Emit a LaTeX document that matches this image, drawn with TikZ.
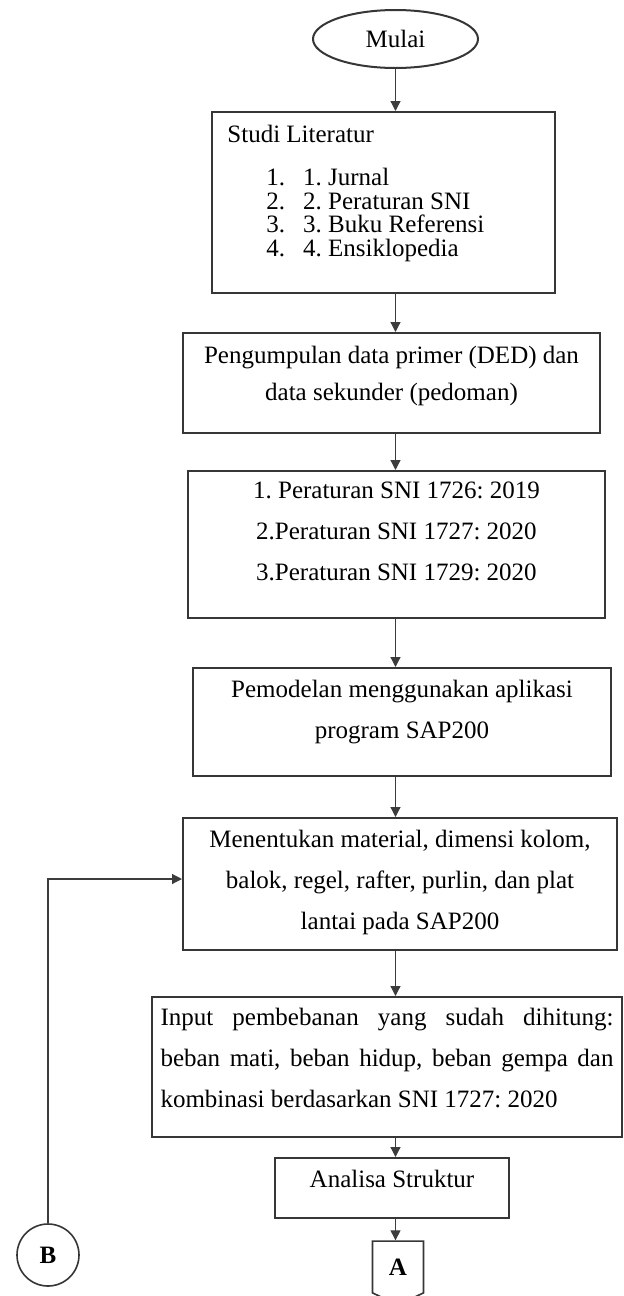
\documentclass[tikz,border=0pt]{standalone}
\usepackage{fontspec}
\setmainfont{Liberation Serif}
\usetikzlibrary{arrows.meta,positioning,shapes.geometric,shapes.symbols}
\definecolor{boxline}{HTML}{363636}
\definecolor{wireline}{HTML}{3C3C3C}
\hyphenpenalty=10000
\frenchspacing
\tikzset{
block/.style={draw=boxline,line width=1pt,align=center,inner sep=0pt,font=\fontsize{12.5pt}{20.5pt}\selectfont},
terminal/.style={ellipse,draw=boxline,line width=1pt,inner sep=0pt,font=\fontsize{12.5pt}{15pt}\selectfont},
joint/.style={circle,draw=boxline,line width=.8pt,inner sep=0pt,minimum size=31pt,font=\fontsize{12.5pt}{15pt}\selectfont\bfseries},
offpage/.style={signal,signal to=south,signal pointer angle=130,draw=boxline,line width=.8pt,inner sep=0pt,minimum width=25.5pt,minimum height=28pt,font=\fontsize{12.5pt}{15pt}\selectfont\bfseries},
listtext/.style={align=left,inner sep=0pt,font=\fontsize{12.5pt}{11.8pt}\selectfont},
flow/.style={-{Triangle[length=5pt,width=5pt]},line width=.6pt,draw=wireline}}

\begin{document}
\begin{tikzpicture}[x=0.5pt,y=-0.5pt]
\useasboundingbox (0,0) rectangle (624,1296);
\node[terminal,minimum width=82.5pt,minimum height=29pt] (mulai) at (395.5,39) {Mulai};
\node[block,minimum width=171.5pt,minimum height=90.5pt] (studi) at (383.5,202.5) {};
\node[listtext,anchor=north west] (studitext) at (227,125) {Studi Literatur\\[9.6pt]\hspace*{19.5pt}1.\hspace{9pt}1. Jurnal\\\hspace*{19.5pt}2.\hspace{9pt}2. Peraturan SNI\\\hspace*{19.5pt}3.\hspace{9pt}3. Buku Referensi\\\hspace*{19.5pt}4.\hspace{9pt}4. Ensiklopedia};
\node[block,minimum width=208.5pt,minimum height=50pt,font=\fontsize{12.5pt}{18.5pt}\selectfont,text depth=9.5pt] (gather) at (391.5,383) {Pengumpulan data primer (DED) dan\\data sekunder (pedoman)};
\node[block,minimum width=208.5pt,minimum height=73.5pt,text depth=13.5pt] (sni) at (396.5,544.5) {1. Peraturan SNI 1726: 2019\\2.Peraturan SNI 1727: 2020\\3.Peraturan SNI 1729: 2020};
\node[block,minimum width=209pt,minimum height=54pt,text depth=12.5pt] (model) at (402,722) {Pemodelan menggunakan aplikasi\\program SAP200};
\node[block,minimum width=217pt,minimum height=66pt,text depth=4pt] (material) at (400,884) {Menentukan material, dimensi kolom,\\balok, regel, rafter, purlin, dan plat\\lantai pada SAP200};
\node[block,minimum width=235pt,minimum height=70pt,text width=226.5pt,align=justify,text depth=50pt] (load) at (387,1067) {Input pembebanan yang sudah dihitung:\linebreak beban mati, beban hidup, beban gempa dan\linebreak kombinasi berdasarkan SNI 1727: 2020};
\node[block,minimum width=117pt,minimum height=30pt,text depth=9pt] (analysis) at (392,1188) {Analisa Struktur};
\node[offpage] (goa) at (398,1267) {A};
\node[joint] (gob) at (48,1255) {B};
\draw[flow] (mulai.south) -- (studi.north -| mulai);
\draw[flow] (studi.south -| mulai) -- (gather.north -| mulai);
\draw[flow] (gather.south -| mulai) -- (sni.north -| mulai);
\draw[flow] (sni.south -| mulai) -- (model.north -| mulai);
\draw[flow] (model.south -| mulai) -- (material.north -| mulai);
\draw[flow] (material.south -| mulai) -- (load.north -| mulai);
\draw[flow] (load.south -| mulai) -- (analysis.north -| mulai);
\draw[flow] (analysis.south -| mulai) -- (goa.north -| mulai);
\draw[flow] (gob.north) |- ([yshift=2.5pt]material.west);
\end{tikzpicture}
\end{document}
